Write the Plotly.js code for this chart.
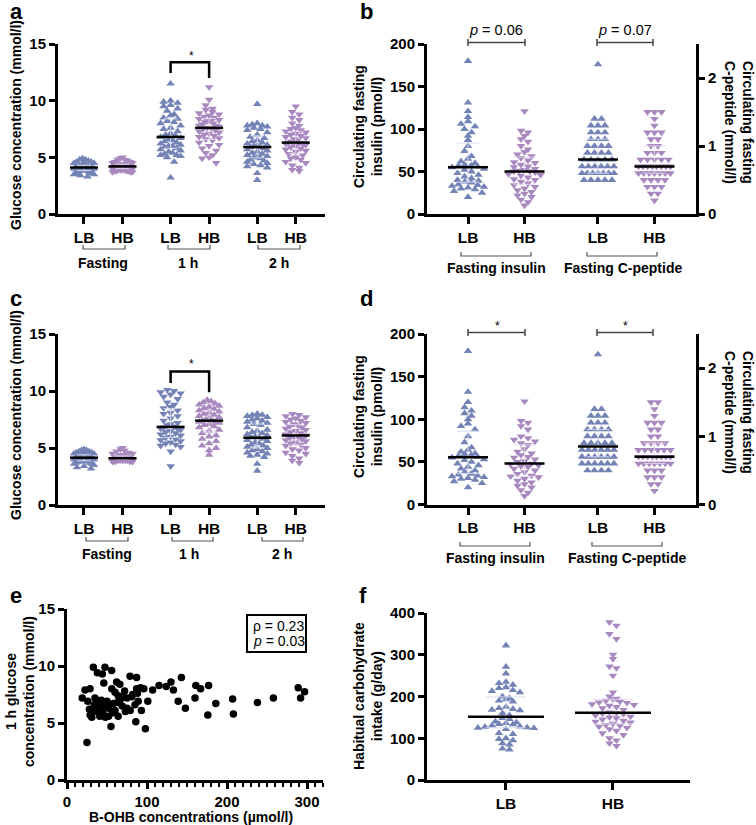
<!DOCTYPE html>
<html><head><meta charset="utf-8">
<script src="https://cdn.plot.ly/plotly-3.0.1.min.js"></script>
<style>html,body{margin:0;padding:0;background:#fff;}#chart{width:756px;height:825px;}</style>
</head><body><div id="chart"></div>
<script>
// ================= DATA =================
const groupTicks = ['LB','HB'];
const glucoseGroups = ['Fasting','1 h','2 h'];
const hormoneGroups = ['Fasting insulin','Fasting C-peptide'];

// Panel a: glucose (mmol/l)
const a_fast_LB = [4.9,4.8,4.8,4.7,4.6,4.6,4.5,4.5,4.4,4.4,4.4,4.3,4.3,4.3,4.2,4.2,4.2,4.2,4.1,4.1,4.1,4.1,4.1,4.0,4.0,4.0,4.0,3.9,3.9,3.9,3.9,3.8,3.8,3.8,3.7,3.7,3.7,3.6,3.6,3.5,3.5,3.4,3.3,4.2,4.0,4.1];
const a_fast_HB = [5.0,4.9,4.8,4.8,4.7,4.6,4.6,4.5,4.5,4.4,4.4,4.4,4.3,4.3,4.3,4.3,4.2,4.2,4.2,4.2,4.2,4.1,4.1,4.1,4.1,4.0,4.0,4.0,4.0,3.9,3.9,3.9,3.9,3.8,3.8,3.8,3.8,3.7,3.7,3.7,4.2,4.3,4.1,4.0,4.4];
const a_1h_LB = [11.5,10.0,9.9,9.8,9.6,9.5,9.3,9.1,8.8,8.7,8.5,8.4,8.2,8.1,8.0,7.8,7.6,7.5,7.3,7.1,7.0,6.9,6.8,6.7,6.6,6.5,6.4,6.3,6.2,6.1,6.0,6.0,5.9,5.8,5.7,5.6,5.5,5.4,5.3,5.2,5.2,5.1,5.0,4.6,3.2];
const a_1h_HB = [11.2,10.1,9.6,9.3,9.2,9.0,8.9,8.8,8.7,8.6,8.5,8.4,8.3,8.2,8.2,8.1,8.0,7.9,7.8,7.8,7.7,7.6,7.6,7.5,7.4,7.3,7.2,7.1,7.0,6.9,6.8,6.7,6.6,6.5,6.3,6.1,6.0,5.8,5.6,5.4,5.2,5.0,4.9,4.5];
const a_2h_LB = [9.7,8.0,7.9,7.8,7.8,7.7,7.6,7.5,7.4,7.2,7.0,6.8,6.7,6.5,6.4,6.3,6.2,6.1,6.0,6.0,5.9,5.9,5.8,5.7,5.6,5.5,5.4,5.3,5.2,5.1,5.0,5.0,4.9,4.8,4.7,4.6,4.5,4.4,4.3,4.2,4.1,3.6,3.0];
const a_2h_HB = [9.5,9.0,8.8,8.5,8.3,8.0,7.8,7.6,7.5,7.4,7.3,7.2,7.1,7.0,6.9,6.8,6.7,6.6,6.5,6.4,6.3,6.3,6.2,6.2,6.1,6.0,5.9,5.8,5.7,5.6,5.5,5.3,5.2,5.0,4.9,4.8,4.6,4.5,4.3,4.1,3.9,3.8];

// Panel b: fasting insulin (pmol/l) and C-peptide (mmol/l)
const b_ins_LB = [180,131,121,114,109,106,103,100,96,92,87,80,74,68,65,62,60,58,57,57,56,55,53,52,50,48,46,44,42,40,39,38,37,35,34,33,32,31,30,29,27,25,20];
const b_ins_HB = [121,98,96,92,88,85,80,76,73,70,68,66,63,61,60,58,56,55,53,52,51,50,50,49,47,46,45,43,41,40,38,36,34,32,30,28,26,24,22,20,17,14,10];
const b_cp_LB = [2.2,1.4,1.4,1.3,1.3,1.3,1.2,1.2,1.2,1.1,1.1,1.1,1.0,1.0,1.0,1.0,0.9,0.9,0.9,0.9,0.8,0.8,0.8,0.8,0.8,0.7,0.7,0.7,0.7,0.7,0.7,0.6,0.6,0.6,0.6,0.6,0.6,0.6,0.5,0.5,0.5,0.5,0.5];
const b_cp_HB = [1.5,1.5,1.5,1.4,1.3,1.2,1.2,1.2,1.1,1.1,1.0,1.0,0.9,0.9,0.9,0.8,0.8,0.8,0.8,0.8,0.7,0.7,0.7,0.7,0.7,0.7,0.7,0.7,0.6,0.6,0.6,0.6,0.6,0.6,0.6,0.5,0.5,0.5,0.5,0.4,0.4,0.4,0.3,0.3,0.2];

// Panel c: glucose (mmol/l)
const c_fast_LB = [4.9,4.8,4.8,4.7,4.7,4.6,4.6,4.5,4.5,4.4,4.4,4.4,4.3,4.3,4.3,4.3,4.2,4.2,4.2,4.2,4.2,4.1,4.1,4.1,4.1,4.0,4.0,4.0,3.9,3.9,3.9,3.8,3.8,3.8,3.7,3.7,3.6,3.6,3.5,3.4,3.3,3.2,4.2,4.1];
const c_fast_HB = [5.0,4.9,4.8,4.7,4.6,4.5,4.5,4.4,4.4,4.3,4.3,4.3,4.2,4.2,4.2,4.1,4.1,4.1,4.1,4.1,4.0,4.0,4.0,4.0,4.0,3.9,3.9,3.9,3.9,3.9,3.8,3.8,3.8,3.8,4.1,4.2,4.0,4.3];
const c_1h_LB = [10.1,10.0,9.9,9.8,9.7,9.5,9.3,9.0,8.8,8.6,8.5,8.3,8.1,8.0,7.8,7.6,7.4,7.2,7.1,7.0,6.9,6.8,6.7,6.7,6.6,6.5,6.4,6.3,6.2,6.1,6.0,5.9,5.8,5.7,5.6,5.5,5.4,5.3,5.2,5.1,4.7,3.4];
const c_1h_HB = [9.2,9.1,9.0,8.9,8.8,8.7,8.6,8.5,8.4,8.3,8.2,8.1,8.0,7.9,7.8,7.7,7.6,7.5,7.4,7.4,7.3,7.3,7.2,7.1,7.0,6.9,6.8,6.6,6.5,6.3,6.1,6.0,5.8,5.6,5.4,5.2,5.0,4.8,4.4];
const c_2h_LB = [8.0,7.9,7.9,7.8,7.7,7.6,7.5,7.4,7.3,7.2,7.1,7.0,6.8,6.6,6.5,6.4,6.3,6.2,6.1,6.0,5.9,5.9,5.8,5.7,5.6,5.5,5.4,5.3,5.2,5.1,5.0,4.9,4.8,4.7,4.6,4.5,4.4,4.3,4.2,3.6,3.0];
const c_2h_HB = [8.0,7.9,7.8,7.7,7.6,7.5,7.4,7.3,7.2,7.1,7.0,6.9,6.8,6.7,6.6,6.5,6.4,6.3,6.2,6.1,6.0,6.0,5.9,5.8,5.7,5.6,5.5,5.4,5.3,5.2,5.0,4.9,4.8,4.6,4.5,4.3,4.1,3.9,3.7];

// Panel d: fasting insulin (pmol/l) and C-peptide (mmol/l)
const d_ins_LB = [180,132,120,114,110,107,104,100,95,92,88,80,73,67,64,62,60,59,58,57,56,55,53,52,50,48,46,44,42,40,38,36,35,34,33,32,31,30,29,27,25,20];
const d_ins_HB = [121,98,96,92,88,80,78,76,74,72,70,65,62,60,58,56,55,53,51,50,48,47,46,45,44,42,40,38,36,34,33,32,30,28,26,24,22,20,17,14,10];
const d_cp_LB = [2.2,1.4,1.4,1.3,1.3,1.3,1.2,1.2,1.2,1.1,1.1,1.1,1.1,1.0,1.0,1.0,1.0,0.9,0.9,0.9,0.9,0.9,0.8,0.8,0.8,0.8,0.8,0.8,0.7,0.7,0.7,0.7,0.7,0.7,0.6,0.6,0.6,0.6,0.6,0.6,0.5,0.5,0.5,0.5];
const d_cp_HB = [1.5,1.5,1.4,1.3,1.2,1.2,1.2,1.1,1.1,1.0,1.0,0.9,0.9,0.9,0.9,0.8,0.8,0.8,0.8,0.8,0.8,0.7,0.7,0.7,0.7,0.7,0.7,0.7,0.7,0.6,0.6,0.6,0.6,0.6,0.6,0.6,0.5,0.5,0.5,0.4,0.4,0.4,0.3,0.3,0.2];

// Panel e: B-OHB (µmol/l) vs 1 h glucose (mmol/l)
const e_bohb = [32.9,47.5,37.9,44.2,55.8,78.8,87,143,130,133,115,161,167,177,107,96,101,139,148,160,186,207,208,176,238,258,289,297,292,25,98,86,55,22.5,28.8,19,26,29,31,41,52,64,39,43,47.5,39,60,64,68,62,56,75,79,85,93,87,46,58,60,66,70,75,35,43,50,37,45,52,81,31,66,72,82,88,53,41,48,57,69,89,63,28,34,73,92,124];
const e_glu1h = [9.9,9.9,9.4,9.3,9.6,9.1,9.0,9.0,8.6,7.9,8.3,8.3,8.0,8.3,7.9,8.0,6.9,6.9,6.3,7.2,6.7,7.1,5.8,5.7,6.8,7.2,8.1,7.75,7.2,3.3,4.5,5.1,4.7,7.9,8.0,7.2,6.9,5.7,5.5,5.6,5.6,5.6,6.9,6.6,6.4,6.3,7.7,7.4,7.2,8.6,8.0,6.3,6.1,6.6,6.1,8.0,8.5,6.7,6.1,7.0,7.3,7.2,7.2,7.0,6.9,6.0,5.85,6.3,7.3,6.0,8.4,7.8,7.5,7.6,6.6,6.2,5.5,5.9,6.5,6.9,6.8,6.2,6.6,6.0,8.1,8.2];
const e_stats = ['ρ = 0.23', '<i>p</i> = 0.03'];

// Panel f: habitual carbohydrate intake (g/day)
const f_LB = [322,271,255,235,232,228,222,220,215,213,210,200,196,193,190,188,175,172,170,168,167,160,155,148,146,140,138,136,134,133,130,128,127,126,125,124,122,112,110,100,98,95,88,85,75,73];
const f_HB = [378,370,350,338,300,290,272,268,250,210,200,195,193,190,188,186,185,182,180,178,175,172,168,162,160,159,158,155,152,150,148,145,142,140,138,135,132,130,128,125,122,118,112,108,100,95,88,82];

// ================= LAYOUT HELPERS =================
const W = 756, H = 825;
const FONT = 'Liberation Sans, Arial, Helvetica, sans-serif';
const px = v => v / W;
const py = v => 1 - v / H;
const COL = {LB:'#7383b6', HB:'#a888bf'};
const IQRC = {LB:'rgba(214,220,240,0.95)', HB:'rgba(228,214,238,0.95)'};

const PANEL = {
  a:{x:[58,325], y:[44,214],  xr:[0.325,7.26]},
  b:{x:[427,696],y:[44,214],  xr:[0.274,5.035]},
  c:{x:[58,325], y:[334,505], xr:[0.325,7.26]},
  d:{x:[427,696],y:[334,504.5],xr:[0.274,5.035]},
  e:{x:[67,323], y:[609,780], xr:[0,320]},
  f:{x:[427,690],y:[613,780], xr:[0.262,2.72]}
};
const posGlu = [1,2,3.25,4.25,5.5,6.5];
const posHorm = [1,2,3.3,4.3];
const posF = [1,2];

function quantile(arr,q){const s=[...arr].sort((a,b)=>a-b);const p=(s.length-1)*q;const lo=Math.floor(p),hi=Math.ceil(p);return s[lo]+(s[hi]-s[lo])*(p-lo);}

function swarm(vals, center, p, yr, o){
  const pxX=(p.x[1]-p.x[0])/(p.xr[1]-p.xr[0]);
  const pxY=(p.y[1]-p.y[0])/(yr[1]-yr[0]);
  const bins={};
  vals.forEach((v,i)=>{const b=Math.round(v*pxY/o.binH);(bins[b]=bins[b]||[]).push(i);});
  const xs=new Array(vals.length);
  Object.values(bins).forEach(list=>{
    list.sort((i,j)=>vals[j]-vals[i]);
    const n=list.length;
    let sp=o.step; if(n>1&&(n-1)*sp>2*o.maxHalf) sp=2*o.maxHalf/(n-1);
    const slots=[];for(let k=0;k<n;k++)slots.push((k-(n-1)/2)*sp);
    slots.sort((s1,s2)=>Math.abs(s1)-Math.abs(s2)||s1-s2);
    list.forEach((i,k)=>{xs[i]=center+slots[k]/pxX;});
  });
  return xs;
}

const traces=[];
function group(vals, center, p, xa, ya, yr, grp, symbol, o){
  const pxX=(p.x[1]-p.x[0])/(p.xr[1]-p.xr[0]);
  const xs=swarm(vals,center,p,yr,o);
  traces.push({type:'scatter',mode:'markers',x:xs,y:vals,xaxis:xa,yaxis:ya,
    marker:{symbol:symbol,color:COL[grp],size:7.5,line:{width:0}},hoverinfo:'skip',showlegend:false,cliponaxis:false});
  const med=quantile(vals,0.5),q1=quantile(vals,0.25),q3=quantile(vals,0.75);
  traces.push({type:'scatter',mode:'markers',x:[center],y:[med],xaxis:xa,yaxis:ya,marker:{opacity:0,size:1},
    error_y:{type:'data',symmetric:false,array:[q3-med],arrayminus:[med-q1],color:IQRC[grp],thickness:1,width:o.cap},hoverinfo:'skip',showlegend:false});
  const hw=o.medHalf/pxX;
  traces.push({type:'scatter',mode:'lines',x:[center-hw,center+hw],y:[med,med],xaxis:xa,yaxis:ya,
    line:{color:'#000',width:2.5},hoverinfo:'skip',showlegend:false,cliponaxis:false});
}

const oGlu={binH:6,step:7,maxHalf:10,medHalf:14,cap:7};
const oHorm={binH:6,step:7,maxHalf:16,medHalf:20,cap:11};
const oF={binH:6,step:7,maxHalf:33,medHalf:38,cap:20};

// Panel a
[[a_fast_LB,'LB','triangle-up'],[a_fast_HB,'HB','triangle-down'],[a_1h_LB,'LB','triangle-up'],[a_1h_HB,'HB','triangle-down'],[a_2h_LB,'LB','triangle-up'],[a_2h_HB,'HB','triangle-down']]
 .forEach((g,i)=>group(g[0],posGlu[i],PANEL.a,'x','y',[0,15],g[1],g[2],oGlu));
// Panel b
group(b_ins_LB,posHorm[0],PANEL.b,'x2','y2',[0,200],'LB','triangle-up',oHorm);
group(b_ins_HB,posHorm[1],PANEL.b,'x2','y2',[0,200],'HB','triangle-down',oHorm);
group(b_cp_LB,posHorm[2],PANEL.b,'x2','y3',[0,2.5],'LB','triangle-up',oHorm);
group(b_cp_HB,posHorm[3],PANEL.b,'x2','y3',[0,2.5],'HB','triangle-down',oHorm);
// Panel c
[[c_fast_LB,'LB','triangle-up'],[c_fast_HB,'HB','triangle-down'],[c_1h_LB,'LB','triangle-down'],[c_1h_HB,'HB','triangle-up'],[c_2h_LB,'LB','triangle-up'],[c_2h_HB,'HB','triangle-down']]
 .forEach((g,i)=>group(g[0],posGlu[i],PANEL.c,'x3','y4',[0,15],g[1],g[2],oGlu));
// Panel d
group(d_ins_LB,posHorm[0],PANEL.d,'x4','y5',[0,200],'LB','triangle-up',oHorm);
group(d_ins_HB,posHorm[1],PANEL.d,'x4','y5',[0,200],'HB','triangle-down',oHorm);
group(d_cp_LB,posHorm[2],PANEL.d,'x4','y6',[0,2.5],'LB','triangle-up',oHorm);
group(d_cp_HB,posHorm[3],PANEL.d,'x4','y6',[0,2.5],'HB','triangle-down',oHorm);
// Panel e
traces.push({type:'scatter',mode:'markers',x:e_bohb,y:e_glu1h,xaxis:'x5',yaxis:'y7',
  marker:{color:'#000',size:7.5,symbol:'circle',line:{width:0}},hoverinfo:'skip',showlegend:false});
// Panel f
group(f_LB,posF[0],PANEL.f,'x6','y8',[0,400],'LB','triangle-up',oF);
group(f_HB,posF[1],PANEL.f,'x6','y8',[0,400],'HB','triangle-down',oF);

// ================= AXES =================
const TF={family:FONT,size:15,color:'#000',weight:'bold'};
const TFX={family:FONT,size:15.5,color:'#000',weight:'bold'};
function yAx(p,range,dtick,extra){return Object.assign({domain:[py(p.y[1]),py(p.y[0])],range:range,dtick:dtick,tick0:0,
  showline:true,linewidth:3,linecolor:'#000',ticks:'outside',ticklen:6,tickwidth:3,tickcolor:'#000',tickfont:TF,
  showgrid:false,zeroline:false,fixedrange:true},extra);}
function xAx(p,extra){return Object.assign({domain:[px(p.x[0]),px(p.x[1])],range:p.xr,
  showline:true,linewidth:3,linecolor:'#000',ticks:'outside',ticklen:7,tickwidth:3,tickcolor:'#000',tickfont:TFX,
  showgrid:false,zeroline:false,fixedrange:true},extra);}
const tGlu=[0,1,2,3,4,5].map(i=>groupTicks[i%2]);
const tHorm=[0,1,2,3].map(i=>groupTicks[i%2]);

const layout={width:W,height:H,margin:{l:0,r:0,t:0,b:0},paper_bgcolor:'#fff',plot_bgcolor:'rgba(0,0,0,0)',showlegend:false,
  xaxis: xAx(PANEL.a,{anchor:'y',tickmode:'array',tickvals:posGlu,ticktext:tGlu}),
  yaxis: yAx(PANEL.a,[0,15],5,{anchor:'x'}),
  xaxis2:xAx(PANEL.b,{anchor:'y2',tickmode:'array',tickvals:posHorm,ticktext:tHorm}),
  yaxis2:yAx(PANEL.b,[0,200],50,{anchor:'x2'}),
  yaxis3:yAx(PANEL.b,[0,2.5],1,{anchor:'x2',overlaying:'y2',side:'right'}),
  xaxis3:xAx(PANEL.c,{anchor:'y4',tickmode:'array',tickvals:posGlu,ticktext:tGlu}),
  yaxis4:yAx(PANEL.c,[0,15],5,{anchor:'x3'}),
  xaxis4:xAx(PANEL.d,{anchor:'y5',tickmode:'array',tickvals:posHorm,ticktext:tHorm}),
  yaxis5:yAx(PANEL.d,[0,200],50,{anchor:'x4'}),
  yaxis6:yAx(PANEL.d,[0,2.5],1,{anchor:'x4',overlaying:'y5',side:'right'}),
  xaxis5:xAx(PANEL.e,{anchor:'y7',dtick:100,tick0:0,ticklen:6,tickfont:TF,minor:{dtick:10,ticklen:4,tickwidth:2,tickcolor:'#000',ticks:'outside'}}),
  yaxis7:yAx(PANEL.e,[0,15],5,{anchor:'x5'}),
  xaxis6:xAx(PANEL.f,{anchor:'y8',tickmode:'array',tickvals:posF,ticktext:groupTicks}),
  yaxis8:yAx(PANEL.f,[0,400],100,{anchor:'x6'}),
  shapes:[],annotations:[]
};

// ================= DECORATIONS =================
const S=layout.shapes, A=layout.annotations;
function ann(text,x,y,o){A.push(Object.assign({text:text,x:px(x),y:py(y),xref:'paper',yref:'paper',showarrow:false,
  xanchor:'center',yanchor:'middle',font:{family:FONT,size:14,color:'#000',weight:'bold'}},o||{}));}
function groupBracket(x0,x1,y,color){S.push({type:'path',xref:'paper',yref:'paper',
  path:`M${px(x0)},${py(y-4)} L${px(x0)},${py(y)} L${px(x1)},${py(y)} L${px(x1)},${py(y-4)}`,line:{color:color||'#555',width:1.2}});}
function capBracket(x0,x1,y){S.push({type:'path',xref:'paper',yref:'paper',
  path:`M${px(x0)},${py(y)} L${px(x1)},${py(y)} M${px(x0)},${py(y-3.5)} L${px(x0)},${py(y+3.5)} M${px(x1)},${py(y-3.5)} L${px(x1)},${py(y+3.5)}`,line:{color:'#444',width:1.5}});}
function sigBracket(xa,ya,x0,x1,yTop,yL,yR){S.push({type:'path',xref:xa,yref:ya,
  path:`M${x0},${yL} L${x0},${yTop} L${x1},${yTop} L${x1},${yR}`,line:{color:'#000',width:2.5}});}

const LET={family:FONT,size:22,color:'#000',weight:'bold'};
ann('a',16,12,{font:LET}); ann('b',366,12,{font:LET});
ann('c',16,298,{font:LET}); ann('d',366,298,{font:LET});
ann('e',16,595,{font:LET}); ann('f',363,595,{font:LET});

// y titles
const TT={family:FONT,size:14,color:'#000',weight:'bold'};
ann('Glucose concentration (mmol/l)',16,125,{textangle:-90,font:TT});
ann('Glucose concentration (mmol/l)',16,415,{textangle:-90,font:TT});
ann('Circulating fasting<br>insulin (pmol/l)',368,127,{textangle:-90,font:TT});
ann('Circulating fasting<br>insulin (pmol/l)',368,417,{textangle:-90,font:TT});
ann('Circulating fasting<br>C-peptide (mmol/l)',739,122,{textangle:90,font:TT});
ann('Circulating fasting<br>C-peptide (mmol/l)',739,412,{textangle:90,font:TT});
ann('1 h glucose<br>concentration (mmol/l)',20,692,{textangle:-90,font:TT});
ann('Habitual carbohydrate<br>intake (g/day)',368,696,{textangle:-90,font:TT});
ann('B-OHB concentrations (µmol/l)',191,817,{font:TT});

const GF={family:FONT,size:14,color:'#000',weight:'bold'};
const gx=[[83,125,103],[168,210,188],[258,300,279]];
glucoseGroups.forEach((g,i)=>{groupBracket(gx[i][0],gx[i][1],249);ann(g,gx[i][2],263,{font:GF});});
const gxc=[[86,128,107],[172,213,189],[262,303,282]];
glucoseGroups.forEach((g,i)=>{groupBracket(gxc[i][0],gxc[i][1],541);ann(g,gxc[i][2],554,{font:GF});});
const hx=[[461,531,496],[587,657,623]];
hormoneGroups.forEach((g,i)=>{groupBracket(hx[i][0],hx[i][1],256);ann(g,hx[i][2],268,{font:GF});});
const hxd=[[460,530,495],[592,662,627]];
hormoneGroups.forEach((g,i)=>{groupBracket(hxd[i][0],hxd[i][1],546);ann(g,hxd[i][2],558,{font:GF});});

// significance brackets a / c
sigBracket('x','y',posGlu[2],posGlu[3],13.4,12.45,12.0);
ann('*',191.5,56,{font:{family:FONT,size:12,color:'#000'}});
sigBracket('x3','y4',posGlu[2],posGlu[3],11.7,10.7,9.9);
ann('*',191.5,364,{font:{family:FONT,size:12,color:'#000'}});

// p brackets b / d
capBracket(468,525,42.5); capBracket(597,653,42.5);
ann('<i>p</i> = 0.06',496,30,{font:{family:FONT,size:14.5,color:'#000'}});
ann('<i>p</i> = 0.07',625,30,{font:{family:FONT,size:14.5,color:'#000'}});
capBracket(468,525,332.5); capBracket(597,653,332.5);
ann('*',497,326,{font:{family:FONT,size:12,color:'#000'}});
ann('*',625,326,{font:{family:FONT,size:12,color:'#000'}});

// stats box panel e
S.push({type:'rect',xref:'paper',yref:'paper',x0:px(247),x1:px(306),y0:py(652),y1:py(615),line:{color:'#000',width:2},fillcolor:'rgba(0,0,0,0)'});
ann(e_stats[0],251,626,{xanchor:'left',font:{family:FONT,size:14,color:'#000'}});
ann(e_stats[1],251,641,{xanchor:'left',font:{family:FONT,size:14,color:'#000'}});

Plotly.newPlot('chart',traces,layout,{staticPlot:true,displayModeBar:false});
</script>
</body></html>
